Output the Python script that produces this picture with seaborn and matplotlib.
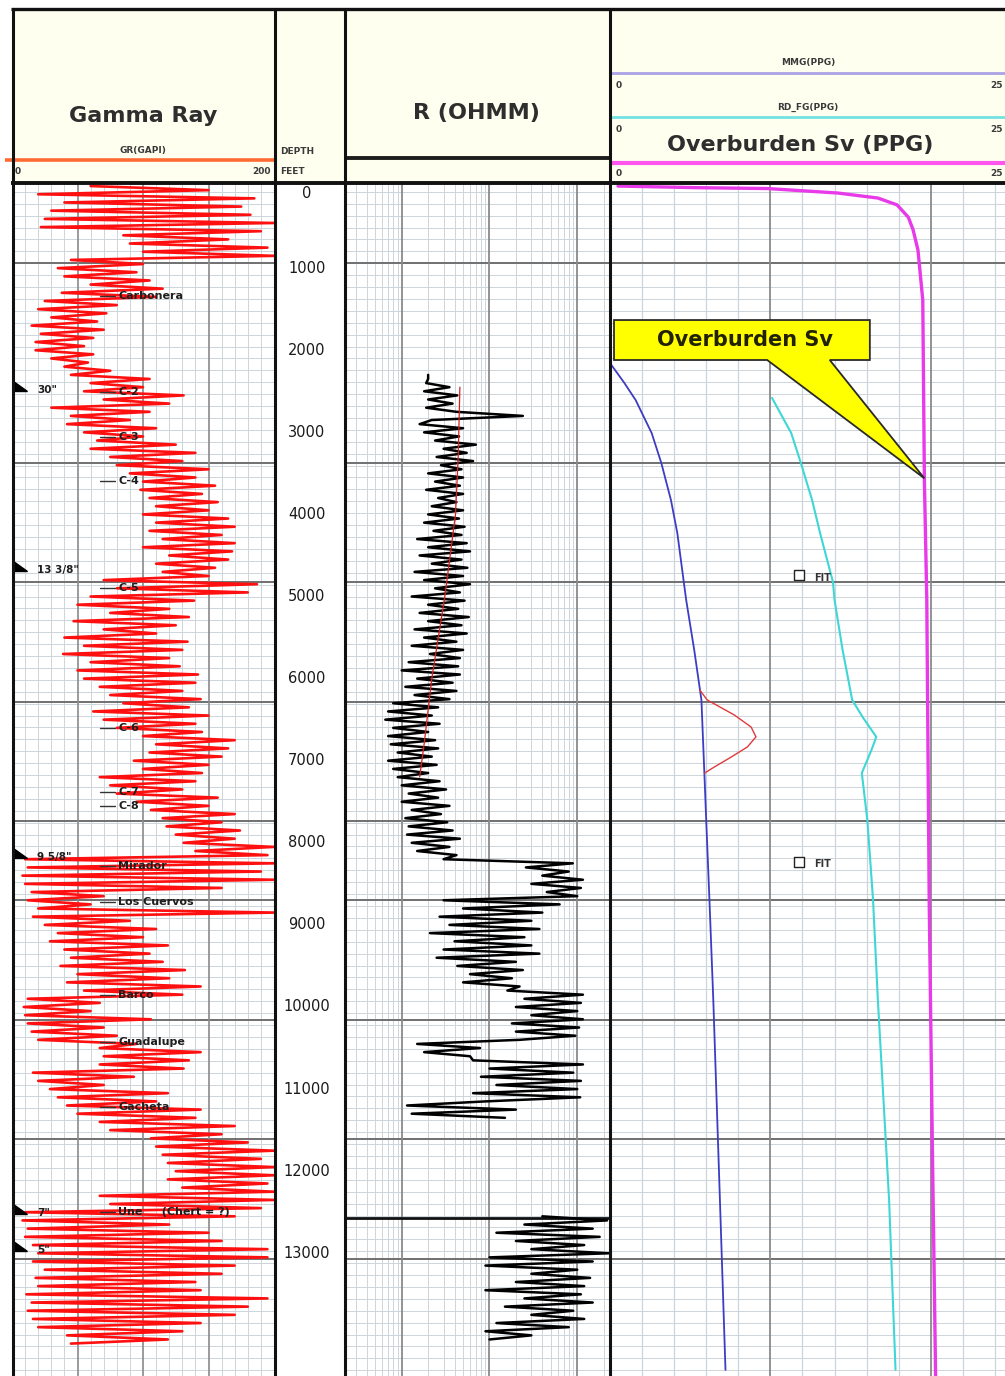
import numpy as np
import matplotlib
matplotlib.use("Agg")
import matplotlib.pyplot as plt
import seaborn as sns
from matplotlib.patches import Polygon, Rectangle
from matplotlib.transforms import blended_transform_factory

sns.set_theme(style="white")
plt.rcParams["font.family"] = ["DejaVu Sans"]

# ---------------------------------------------------------------- data
STEP = 50  # sample interval of the digitised logs, ft

# Gamma ray (GAPI), one sample every 50 ft starting at 0 ft
gr_start = 0
gr_values = [
    60, 150, 20, 185, 40, 175, 30, 182, 25, 200, 22, 190, 85, 165, 90, 195, 100, 200, 45, 100,
    35, 95, 40, 105, 60, 115, 38, 110, 25, 80, 20, 72, 30, 65, 15, 70, 22, 62, 18, 55,
    18, 62, 30, 58, 40, 75, 45, 105, 60, 100, 55, 131, 70, 120, 30, 105, 45, 90, 42, 110,
    55, 100, 65, 125, 60, 140, 75, 130, 80, 150, 90, 140, 100, 155, 98, 145, 105, 157, 110, 150,
    100, 165, 110, 170, 105, 160, 115, 170, 100, 168, 120, 165, 110, 155, 115, 150, 70, 187, 80, 180,
    60, 139, 50, 120, 75, 135, 47, 125, 70, 110, 40, 134, 55, 130, 39, 120, 60, 128, 50, 142,
    55, 140, 67, 130, 75, 144, 85, 135, 62, 150, 70, 140, 80, 145, 100, 170, 110, 165, 105, 160,
    93, 150, 100, 145, 67, 140, 75, 130, 80, 157, 95, 150, 106, 170, 115, 160, 118, 174, 125, 170,
    131, 200, 140, 195, 10, 200, 12, 190, 8, 200, 10, 160, 15, 70, 12, 60, 20, 200, 16, 90,
    25, 110, 35, 100, 29, 119, 40, 105, 45, 115, 37, 132, 50, 120, 42, 144, 55, 130, 12, 67,
    9, 60, 10, 106, 12, 70, 15, 80, 20, 95, 67, 144, 70, 135, 67, 131, 16, 93, 20, 70,
    29, 119, 35, 110, 42, 144, 50, 140, 67, 170, 75, 160, 106, 180, 110, 200, 115, 190, 119, 200,
    125, 200, 119, 195, 130, 200, 67, 200, 75, 190, 10, 170, 8, 120, 12, 150, 10, 160, 16, 195,
    20, 195, 16, 170, 25, 160, 18, 140, 20, 144, 11, 195, 15, 180, 12, 170, 16, 144, 20, 130,
    42, 119, 45,
]

# Resistivity (ohm.m), upper logged run from 2300 ft
r_upper_start = 2300
r_upper = [
    2.0, 2.0, 1.9, 3.5, 1.8, 4.3, 2.0, 3.8, 1.9, 4.2, 24, 2.2, 1.6, 5.0, 1.8, 4.5, 2.4, 7.0, 3.0, 5.5,
    2.5, 6.5, 2.8, 4.8, 2.0, 5.0, 2.4, 4.6, 1.9, 5.0, 2.6, 4.2, 2.2, 5.0, 2.0, 4.5, 1.8, 5.2, 2.3, 4.8,
    1.5, 5.5, 2.0, 6.0, 1.6, 4.8, 2.2, 5.6, 1.4, 5.0, 1.8, 6.0, 2.4, 4.6, 1.3, 5.2, 2.0, 4.4, 1.6, 5.8,
    2.0, 4.8, 1.4, 5.5, 1.8, 4.2, 1.3, 5.0, 2.1, 4.6, 1.2, 4.4, 1.0, 4.6, 1.5, 3.8, 1.1, 4.2, 1.4, 3.5,
    0.8, 2.6, 0.7, 2.2, 0.65, 2.7, 0.8, 2.0, 0.7, 2.4, 0.75, 2.6, 0.9, 2.2, 0.7, 2.5, 0.8, 2.0, 0.9, 2.7,
    1.0, 3.2, 1.2, 2.6, 1.0, 3.5, 1.3, 2.8, 1.1, 3.3, 1.2, 3.8, 1.15, 4.6, 1.3, 3.5, 1.5, 4.2, 3.0, 89,
    26, 80, 40, 116, 30, 110, 45, 100, 3.0, 63, 5.0, 40, 2.7, 30, 3.5, 37, 2.1, 25, 4.0, 30,
    3.0, 37, 2.5, 20, 4.3, 24, 6.0, 18, 5.0, 22, 16, 116, 25, 110, 20, 100, 30, 116, 18, 105,
    20, 95, 22, 1.5, 7.8, 1.8, 6.0, 6.5, 116, 10, 90, 8, 110, 12, 100, 6.5, 108, 9, 1.15, 20,
    1.3, 15,
]

# Resistivity (ohm.m), lower logged run from 12550 ft
r_lower_start = 12550
r_lower = [
    40, 218, 25, 150, 12, 180, 20, 120, 30, 230, 10, 150, 9, 100, 30, 140,
    20, 120, 9, 110, 25, 150, 15, 90, 30, 120, 12, 80, 9, 30, 10,
]

# Resistivity trend line
r_trend_depth = [2450, 3300, 4000, 5000, 6000, 6800, 7200]
r_trend_value = [4.6, 4.4, 4.1, 3.1, 2.2, 1.8, 1.6]

# Pressure gradients (PPG)
mmg_depth = [2156, 2400, 2607, 3010, 3374, 3825, 4230, 4823, 5043, 5650, 6260, 7235, 7735, 8697, 9915, 11740, 14420]
mmg_value = [0.0, 0.9, 1.6, 2.6, 3.2, 3.8, 4.2, 4.6, 4.75, 5.25, 5.7, 5.9, 6.0, 6.2, 6.44, 6.75, 7.2]

hump_depth = [6140, 6260, 6443, 6590, 6710, 6833, 6955, 7077, 7150]
hump_value = [5.6, 6.06, 7.75, 8.8, 9.1, 8.56, 7.56, 6.5, 5.9]

fg_depth = [2580, 3010, 3374, 3825, 4230, 4823, 5043, 5650, 6260, 6468, 6710, 6870, 7150, 7735, 8697, 9915, 11130, 12350, 14420]
fg_value = [10.1, 11.3, 11.9, 12.6, 13.1, 13.9, 14.0, 14.5, 15.1, 15.75, 16.6, 16.3, 15.7, 16.05, 16.4, 16.7, 17.05, 17.4, 17.8]

sv_depth = [0, 20, 30, 85, 146, 230, 380, 536, 780, 1390, 3580, 5040, 8700, 11740, 14500]
sv_value = [0.5, 5.5, 9.8, 14.2, 16.7, 17.9, 18.6, 18.9, 19.2, 19.5, 19.6, 19.75, 19.9, 20.1, 20.3]

fit_depth = [4740, 8230]
fit_value = [11.8, 11.8]

# Formation tops and casing points
tops_name = ["Carbonera", "C-2", "C-3", "C-4", "C-5", "C-6", "C-7", "C-8", "Mirador",
             "Los Cuervos", "Barco", "Guadalupe", "Gacheta", "Une     (Chert = ?)"]
tops_depth = [1340, 2510, 3057, 3593, 4896, 6600, 7380, 7550, 8280, 8720, 9850, 10430, 11220, 12500]

casing_label = ['30"', '13 3/8"', '9 5/8"', '7"', '5"']
casing_depth = [2485, 4680, 8170, 12510, 12960]

depth_ticks = list(range(0, 14000, 1000))
major_lines = [940, 3370, 4820, 6280, 7730, 8700, 10160, 11610, 13070]

# ---------------------------------------------------------------- layout
W, H = 1005, 1376
TOP_D, BOT_D = -25, 14495

fig = plt.figure(figsize=(W / 100, H / 100), dpi=100)
fig.patch.set_facecolor("white")


def px_axes(x0, x1, y0, y1):
    return fig.add_axes([x0 / W, 1 - y1 / H, (x1 - x0) / W, (y1 - y0) / H])


ax_gr = px_axes(12, 274, 184, 1376)
ax_dp = px_axes(274, 344, 184, 1376)
ax_r = px_axes(344, 609, 184, 1376)
ax_p = px_axes(610, 1011, 184, 1376)

MINOR = "#cdd4da"
MAJOR_V = "#8a8a8a"
MAJOR_H = "#707070"
minor_h = np.arange(70, 14500, 145)

for ax in (ax_gr, ax_dp, ax_r, ax_p):
    ax.set_facecolor("white")
    ax.set_ylim(BOT_D, TOP_D)
    ax.set_xticks([])
    ax.set_yticks([])
    ax.set_xlabel("")
    ax.set_ylabel("")
    for s in ax.spines.values():
        s.set_visible(False)

ax_gr.set_xlim(0, 200)
ax_r.set_xscale("log")
ax_r.set_xlim(0.22, 230)
ax_p.set_xlim(0, 25)
ax_dp.set_xlim(0, 1)

# grids
for ax in (ax_gr, ax_r, ax_p):
    ax.hlines(minor_h, *ax.get_xlim(), color=MINOR, lw=0.7, zorder=0)
    ax.hlines(major_lines, *ax.get_xlim(), color=MAJOR_H, lw=1.4, zorder=0.5)

ax_gr.vlines([v for v in range(10, 200, 10) if v % 50], TOP_D, BOT_D, color=MINOR, lw=0.7, zorder=0)
ax_gr.vlines([50, 100, 150], TOP_D, BOT_D, color=MAJOR_V, lw=1.2, zorder=0.5)

r_minor = [m * d for d in (0.1, 1, 10, 100) for m in range(2, 10) if 0.22 < m * d < 230]
ax_r.vlines(r_minor, TOP_D, BOT_D, color=MINOR, lw=0.7, zorder=0)
ax_r.vlines([1, 10, 100], TOP_D, BOT_D, color=MAJOR_V, lw=1.3, zorder=0.5)

ax_p.vlines([v for v in range(2, 25, 2) if v % 10], TOP_D, BOT_D, color=MINOR, lw=0.9, zorder=0)
ax_p.vlines([10, 20], TOP_D, BOT_D, color=MAJOR_V, lw=1.3, zorder=0.5)

# ---------------------------------------------------------------- curves
gr_depth = gr_start + STEP * np.arange(len(gr_values))
sns.lineplot(x=gr_values, y=gr_depth, sort=False, estimator=None,
             color="#ff1010", lw=1.9, ax=ax_gr, zorder=2)

ru_depth = r_upper_start + STEP * np.arange(len(r_upper))
rl_depth = r_lower_start + STEP * np.arange(len(r_lower))
sns.lineplot(x=r_upper, y=ru_depth, sort=False, estimator=None,
             color="black", lw=1.8, ax=ax_r, zorder=2)
sns.lineplot(x=r_lower, y=rl_depth, sort=False, estimator=None,
             color="black", lw=1.8, ax=ax_r, zorder=2)
sns.lineplot(x=r_trend_value, y=r_trend_depth, sort=False, estimator=None,
             color="#d42020", lw=0.9, ax=ax_r, zorder=3)
ax_r.axhline(r_lower_start + 20, color="#111111", lw=2.0, zorder=1)

sns.lineplot(x=sv_value, y=sv_depth, sort=False, estimator=None,
             color="#e83ae8", lw=2.4, ax=ax_p, zorder=3)
sns.lineplot(x=mmg_value, y=mmg_depth, sort=False, estimator=None,
             color="#3c3cc4", lw=1.3, ax=ax_p, zorder=3)
sns.lineplot(x=hump_value, y=hump_depth, sort=False, estimator=None,
             color="#e03a3a", lw=1.0, ax=ax_p, zorder=3)
sns.lineplot(x=fg_value, y=fg_depth, sort=False, estimator=None,
             color="#3fd6d6", lw=1.5, ax=ax_p, zorder=3)

# FIT points
ax_p.scatter(fit_value, fit_depth, marker="s", s=55, facecolor="white",
             edgecolor="#222222", lw=1.0, zorder=4)
for v, d in zip(fit_value, fit_depth):
    ax_p.text(v + 0.95, d + 30, "FIT", fontsize=7, fontweight="bold",
              color="#333333", va="center", ha="left", zorder=4)

# depth labels
for d in depth_ticks:
    ax_dp.text(0.47, d, f"{d}", ha="center", va="top" if d == 0 else "center",
               fontsize=10.5, color="#1a1a1a")

# formation tops
for name, d in zip(tops_name, tops_depth):
    ax_gr.plot([67, 79], [d, d], color="#333333", lw=1.0, zorder=4)
    ax_gr.text(81, d, name, fontsize=8, fontweight="bold", color="#1e1e1e",
               va="center", ha="left", zorder=5)

# casing shoes
tr = blended_transform_factory(ax_gr.transAxes, ax_gr.transData)
for lab, d in zip(casing_label, casing_depth):
    ax_gr.add_patch(Polygon([(0.002, d - 110), (0.002, d + 10), (0.058, d + 10)],
                            closed=True, transform=tr, color="black",
                            clip_on=False, zorder=6))
    ax_gr.text(0.095, d, lab, transform=tr, fontsize=7.5, fontweight="bold",
               color="#1e1e1e", va="center", ha="left", zorder=5)

# overburden callout
tip_d = 3560
tip_v = float(np.interp(tip_d, sv_depth, sv_value))
callout = Polygon([(0.25, 1632), (16.2, 1632), (16.2, 2119), (13.7, 2119),
                   (tip_v, tip_d), (9.8, 2119), (0.25, 2119)],
                  closed=True, facecolor="#ffff00", edgecolor="#2a2a2a",
                  lw=1.3, clip_on=False, zorder=7)
ax_p.add_patch(callout)
ax_p.text(8.4, 1880, "Overburden Sv", fontsize=15, fontweight="bold",
          color="#222200", ha="center", va="center", zorder=8)

# ---------------------------------------------------------------- header / frame
ov = fig.add_axes([0, 0, 1, 1], zorder=10)
ov.set_xlim(0, W)
ov.set_ylim(H, 0)
ov.axis("off")

ov.add_patch(Rectangle((12, 9), W - 12, 173, facecolor="#fffff0", edgecolor="none", zorder=0))

TXT = "#2e2e2e"
SMALL = dict(fontsize=6.5, fontweight="bold", color="#3a3a3a", va="center")

# gamma ray header
ov.text(143, 116, "Gamma Ray", fontsize=16, fontweight="bold", color=TXT, ha="center", va="center")
ov.text(143, 150, "GR(GAPI)", ha="center", **SMALL)
ov.plot([5, 275], [160, 160], color="#ff6a33", lw=2.6, solid_capstyle="butt")
ov.text(15, 172, "0", ha="left", **SMALL)
ov.text(271, 172, "200", ha="right", **SMALL)

# depth header
ov.text(280, 151, "DEPTH", ha="left", **SMALL)
ov.text(280, 172, "FEET", ha="left", **SMALL)

# resistivity header
ov.text(476, 113, "R (OHMM)", fontsize=16, fontweight="bold", color=TXT, ha="center", va="center")
ov.plot([345, 609], [158, 158], color="#1e1e1e", lw=2.8, solid_capstyle="butt")

# pressure header
ov.text(808, 63, "MMG(PPG)", ha="center", **SMALL)
ov.plot([611, W], [73, 73], color="#aaa2e6", lw=2.0, solid_capstyle="butt")
ov.text(616, 86, "0", ha="left", **SMALL)
ov.text(1003, 86, "25", ha="right", **SMALL)
ov.text(808, 107, "RD_FG(PPG)", ha="center", **SMALL)
ov.plot([611, W], [117, 117], color="#72e2e2", lw=2.0, solid_capstyle="butt")
ov.text(616, 129, "0", ha="left", **SMALL)
ov.text(1003, 129, "25", ha="right", **SMALL)
ov.text(800, 145, "Overburden Sv (PPG)", fontsize=16, fontweight="bold", color=TXT,
        ha="center", va="center")
ov.plot([611, W], [163, 163], color="#ff55ee", lw=3.0, solid_capstyle="butt")
ov.text(616, 174, "0", ha="left", **SMALL)
ov.text(1003, 174, "25", ha="right", **SMALL)

# frame lines
ov.plot([11, W], [9, 9], color="#111111", lw=2.4, solid_capstyle="butt")
ov.plot([11, W], [182.5, 182.5], color="#111111", lw=2.8, solid_capstyle="butt")
for x in (12.5, 275, 344.5, 610):
    ov.plot([x, x], [8, H], color="#111111", lw=2.2, solid_capstyle="butt")

fig.savefig("out.png", dpi=100, facecolor="white")
